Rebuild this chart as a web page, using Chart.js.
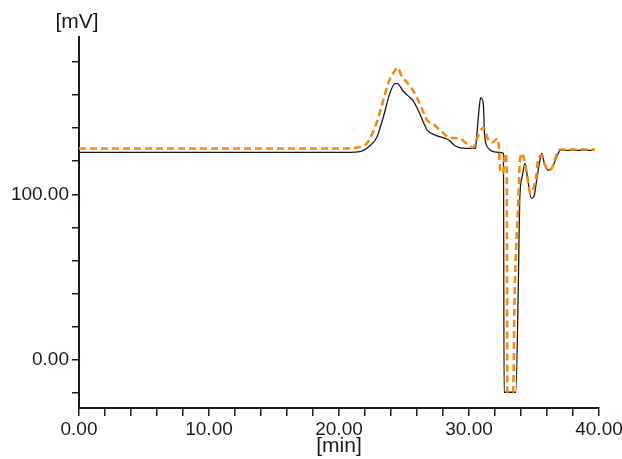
<!DOCTYPE html>
<html>
<head>
<meta charset="utf-8">
<title>Chromatogram</title>
<script src="https://cdn.jsdelivr.net/npm/chart.js@4"></script>
<style>
  html, body { margin: 0; padding: 0; background: #fff; }
  canvas { display: block; }
</style>
</head>
<body>
<canvas id="chromChart" width="622" height="459"></canvas>
<script>
// Detector signal, solid trace (time in min, signal in mV)
const solidTimes = [0, 20, 21.2, 21.8, 22.4, 22.9, 23.4, 23.9, 24.3, 24.5, 24.9, 25.3, 25.7, 26.1, 26.5, 26.8,
  27.5, 28.2, 28.5, 28.8, 29.2, 29.8, 30.5, 30.6, 30.8, 30.9, 31.1, 31.2, 31.5, 31.8, 32.4, 32.65,
  32.7, 33.6, 33.8, 33.9, 34.1, 34.3, 34.5, 34.8, 35.0, 35.2, 35.5, 35.6, 35.8, 36.1, 36.4, 36.8, 37.0, 39.6];
const solidValues = [125.3, 125.3, 125.5, 126.2, 129.5, 134.3, 146.4, 160.8, 166.9, 166.9, 162.7, 159.6, 156.6, 150.6, 143.4, 138.6,
  135.5, 133.7, 132.5, 130.1, 128.3, 127.7, 127.7, 135.5, 153.6, 158.4, 154.8, 135.5, 127.7, 125.9, 125.3, 124.7,
  -19.5, -19.5, 48, 96.4, 111, 118.7, 110, 97.6, 98.8, 108.4, 122.3, 124.7, 118.7, 114.5, 116.3, 123.5, 126.5, 126.5];

// Detector signal, dashed trace
const dashedTimes = [0, 20.1, 21.3, 22.2, 22.6, 23.0, 23.4, 23.8, 24.2, 24.5, 24.8, 25.3, 25.7, 26.1, 26.5, 26.8,
  27.2, 27.8, 28.5, 29.3, 29.8, 30.3, 30.7, 31.1, 31.5, 31.8, 32.2, 32.3, 32.4, 32.6, 32.8, 32.9,
  32.95, 33.4, 33.5, 33.8, 33.9, 34.1, 34.2, 34.5, 34.7, 34.9, 35.2, 35.3, 35.6, 35.8, 36.1, 36.4, 36.8, 37.0, 39.7];
const dashedValues = [127.7, 127.7, 128.2, 131.3, 137.3, 145.8, 156.6, 167.5, 173.5, 176.5, 171.7, 166.9, 162.7, 156.6, 149.4, 144.6,
  142.8, 138.6, 134.3, 133.7, 130.7, 128.3, 135.5, 140.4, 132.5, 131.3, 133.7, 128.3, 114.5, 112.7, 124.7, 114.5,
  -19.5, -19.5, 36, 96.4, 119.3, 124.7, 122.3, 110.2, 100.6, 102.4, 112.7, 120.5, 123.5, 118.7, 114.5, 116.3, 125.3, 127.1, 127.1];

// Axis ranges and labelled ticks
const xMin = 0, xMax = 40, xStep = 2;
const xLabelled = [0, 10, 20, 30, 40];
const yMin = -29, yMax = 195, yStep = 20;
const yLabelled = [0, 100];

const inkColor = '#231815';
const orange = '#ef8c17';
const fontFamily = '"Liberation Sans", Arial, sans-serif';

function toPoints(times, values) {
    return times.map((t, i) => ({ x: t, y: values[i] }));
}

// Unit label above the vertical axis
const unitLabelPlugin = {
    id: 'unitLabel',
    afterDraw(chart) {
        const ctx = chart.ctx;
        const yScale = chart.scales.y;
        ctx.save();
        ctx.font = '21px ' + fontFamily;
        ctx.fillStyle = inkColor;
        ctx.textAlign = 'center';
        ctx.textBaseline = 'middle';
        ctx.fillText('[mV]', yScale.right - 2, yScale.top - 15);
        ctx.restore();
    }
};

const ctx = document.getElementById('chromChart').getContext('2d');
new Chart(ctx, {
    type: 'line',
    data: {
        datasets: [{
            label: 'solid',
            data: toPoints(solidTimes, solidValues),
            borderColor: inkColor,
            borderWidth: 1.3,
            pointRadius: 0,
            cubicInterpolationMode: 'monotone',
            order: 1
        }, {
            label: 'dashed',
            data: toPoints(dashedTimes, dashedValues),
            borderColor: orange,
            borderWidth: 2.6,
            borderDash: [7, 4],
            pointRadius: 0,
            cubicInterpolationMode: 'monotone',
            order: 0
        }]
    },
    options: {
        responsive: false,
        animation: false,
        layout: { padding: { left: 0, right: 23, top: 37, bottom: 0 } },
        plugins: {
            legend: { display: false },
            tooltip: { enabled: false }
        },
        scales: {
            x: {
                type: 'linear',
                min: xMin,
                max: xMax,
                // keep the axis length fixed; the last label may hang past the edge padding
                afterFit(scale) {
                    scale.height = 51;
                    scale.paddingLeft = 0;
                    scale.paddingRight = 0;
                },
                border: { display: true, color: inkColor, width: 2 },
                grid: {
                    drawOnChartArea: false,
                    drawTicks: true,
                    tickLength: 8,
                    color: inkColor,
                    lineWidth: 1.5
                },
                ticks: {
                    stepSize: xStep,
                    autoSkip: false,
                    maxRotation: 0,
                    padding: 2,
                    color: inkColor,
                    font: { family: fontFamily, size: 19 },
                    callback: (value) => xLabelled.includes(value) ? value.toFixed(2) : ''
                },
                title: {
                    display: true,
                    text: '[min]',
                    color: inkColor,
                    font: { family: fontFamily, size: 21 },
                    padding: { top: -8, bottom: 0 }
                }
            },
            y: {
                type: 'linear',
                min: yMin,
                max: yMax,
                afterFit(scale) { scale.width = 79; },
                border: { display: true, color: inkColor, width: 2 },
                grid: {
                    drawOnChartArea: false,
                    drawTicks: true,
                    tickLength: 7,
                    color: inkColor,
                    lineWidth: 1.5
                },
                ticks: {
                    stepSize: yStep,
                    includeBounds: false,
                    autoSkip: false,
                    padding: 3,
                    color: inkColor,
                    font: { family: fontFamily, size: 19 },
                    callback: (value) => yLabelled.includes(value) ? value.toFixed(2) : ''
                }
            }
        }
    },
    plugins: [unitLabelPlugin]
});
</script>
</body>
</html>
